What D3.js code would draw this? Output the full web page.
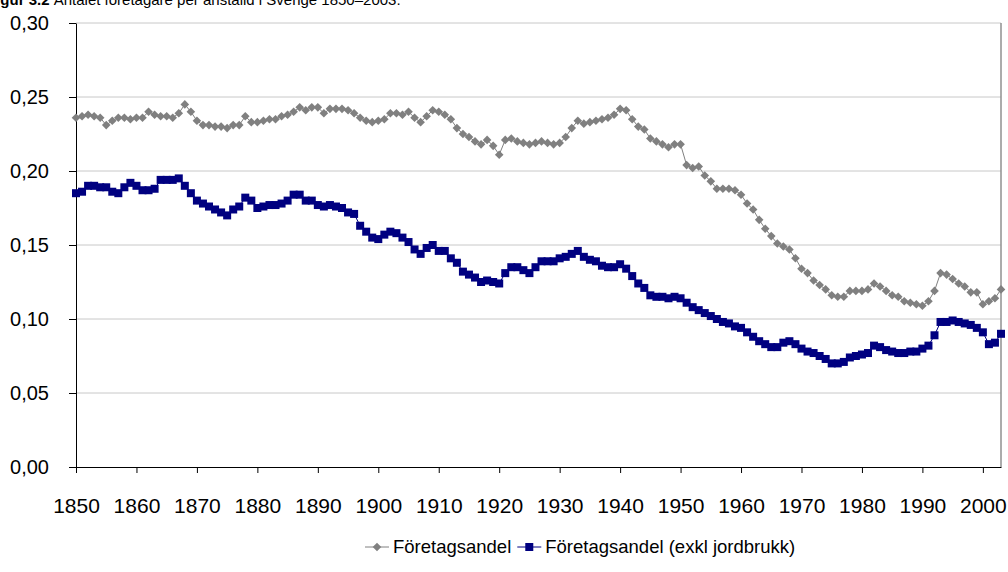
<!DOCTYPE html>
<html>
<head>
<meta charset="utf-8">
<script src="https://cdn.jsdelivr.net/npm/d3@7"></script>
<style>
body { margin: 0; background: #fff; }
svg { display: block; font-family: "Liberation Sans", Arial, sans-serif; }
</style>
</head>
<body>
<div id="chart"></div>
<script>
// årtal 1850-2003
const years = d3.range(1850, 2004);

const foretagsandel = [
  0.236, 0.237, 0.238, 0.237, 0.236, 0.231, 0.234, 0.236, 0.236, 0.235,
  0.236, 0.236, 0.240, 0.238, 0.237, 0.237, 0.236, 0.239, 0.245, 0.240,
  0.234, 0.231, 0.231, 0.230, 0.230, 0.229, 0.231, 0.231, 0.237, 0.233,
  0.233, 0.234, 0.235, 0.235, 0.237, 0.238, 0.240, 0.243, 0.241, 0.243,
  0.243, 0.239, 0.242, 0.242, 0.242, 0.241, 0.239, 0.236, 0.234, 0.233,
  0.234, 0.235, 0.239, 0.239, 0.238, 0.240, 0.236, 0.233, 0.237, 0.241,
  0.240, 0.238, 0.235, 0.229, 0.225, 0.223, 0.220, 0.218, 0.221, 0.217,
  0.211, 0.221, 0.222, 0.220, 0.219, 0.218, 0.219, 0.220, 0.219, 0.218,
  0.219, 0.223, 0.229, 0.234, 0.232, 0.233, 0.234, 0.235, 0.236, 0.238,
  0.242, 0.241, 0.235, 0.230, 0.228, 0.222, 0.220, 0.218, 0.216, 0.218,
  0.218, 0.204, 0.202, 0.203, 0.197, 0.193, 0.188, 0.188, 0.188, 0.187,
  0.184, 0.178, 0.174, 0.167, 0.161, 0.156, 0.151, 0.149, 0.147, 0.141,
  0.134, 0.131, 0.126, 0.123, 0.120, 0.116, 0.115, 0.115, 0.119, 0.119,
  0.119, 0.120, 0.124, 0.122, 0.119, 0.116, 0.115, 0.112, 0.111, 0.110,
  0.109, 0.112, 0.119, 0.131, 0.130, 0.127, 0.124, 0.122, 0.118, 0.118,
  0.110, 0.112, 0.114, 0.120
];

const exklJordbruk = [
  0.185, 0.186, 0.190, 0.190, 0.189, 0.189, 0.186, 0.185, 0.189, 0.192,
  0.190, 0.187, 0.187, 0.188, 0.194, 0.194, 0.194, 0.195, 0.190, 0.185,
  0.180, 0.178, 0.176, 0.174, 0.172, 0.170, 0.174, 0.176, 0.182, 0.180,
  0.175, 0.176, 0.177, 0.177, 0.178, 0.180, 0.184, 0.184, 0.180, 0.180,
  0.177, 0.176, 0.177, 0.176, 0.175, 0.172, 0.171, 0.163, 0.159, 0.155,
  0.154, 0.157, 0.159, 0.158, 0.155, 0.152, 0.147, 0.144, 0.148, 0.150,
  0.146, 0.146, 0.141, 0.138, 0.132, 0.130, 0.128, 0.125, 0.126, 0.125,
  0.124, 0.131, 0.135, 0.135, 0.133, 0.131, 0.135, 0.139, 0.139, 0.139,
  0.141, 0.142, 0.144, 0.146, 0.142, 0.140, 0.139, 0.136, 0.135, 0.135,
  0.137, 0.134, 0.129, 0.124, 0.121, 0.116, 0.115, 0.115, 0.114, 0.115,
  0.114, 0.111, 0.108, 0.106, 0.104, 0.102, 0.100, 0.098, 0.097, 0.095,
  0.094, 0.091, 0.088, 0.085, 0.083, 0.081, 0.081, 0.084, 0.085, 0.083,
  0.080, 0.078, 0.077, 0.075, 0.073, 0.070, 0.070, 0.071, 0.074, 0.075,
  0.076, 0.077, 0.082, 0.081, 0.079, 0.078, 0.077, 0.077, 0.078, 0.078,
  0.080, 0.082, 0.089, 0.098, 0.098, 0.099, 0.098, 0.097, 0.096, 0.094,
  0.091, 0.083, 0.084, 0.090
];

const xTickYears = [1850, 1860, 1870, 1880, 1890, 1900, 1910, 1920, 1930, 1940, 1950, 1960, 1970, 1980, 1990, 2000];
const yTicks = [0, 0.05, 0.10, 0.15, 0.20, 0.25, 0.30];
const seriesNames = ["Företagsandel", "Företagsandel (exkl jordbrukk)"];
const titleBold = "Figur 3.2";
const titleRest = "Antalet företagare per anställd i Sverige 1850–2003.";

const width = 1008, height = 572;
const margin = { top: 23, right: 7, bottom: 105, left: 76 };

const svg = d3.select('#chart').append('svg')
  .attr('width', width)
  .attr('height', height);

const x = d3.scaleLinear()
  .domain([1850, 2003])
  .range([margin.left, width - margin.right]);

const y = d3.scaleLinear()
  .domain([0, 0.30])
  .range([height - margin.bottom, margin.top]);

const sv = d3.formatLocale({ decimal: ',', thousands: ' ', grouping: [3], currency: ['', ' kr'] });
const fmt = sv.format('.2f');

// titel (avklippt i överkanten, som i originalet)
const title = svg.append('text')
  .attr('x', -13)
  .attr('y', 5)
  .style('font-size', '15px')
  .attr('fill', '#000');
title.append('tspan').style('font-weight', 'bold').text(titleBold + ' ');
title.append('tspan').text(titleRest);

// rutnät
svg.append('g')
  .selectAll('line')
  .data(yTicks.filter(d => d > 0))
  .join('line')
  .attr('x1', x.range()[0])
  .attr('x2', x.range()[1])
  .attr('y1', d => y(d))
  .attr('y2', d => y(d))
  .attr('stroke', '#c8c8c8')
  .attr('stroke-width', 1);

// högerkant
svg.append('line')
  .attr('x1', x.range()[1]).attr('x2', x.range()[1])
  .attr('y1', y(0.30)).attr('y2', y(0))
  .attr('stroke', '#909090')
  .attr('stroke-width', 1.5);

// axlar
const yAxis = svg.append('g')
  .attr('transform', `translate(${margin.left},0)`)
  .call(d3.axisLeft(y).tickValues(yTicks).tickFormat(fmt).tickSize(7).tickSizeOuter(0).tickPadding(20));

const xAxis = svg.append('g')
  .attr('transform', `translate(0,${y(0)})`)
  .call(d3.axisBottom(x).tickValues(xTickYears).tickFormat(d3.format('d')).tickSize(6).tickSizeOuter(0).tickPadding(25));

[yAxis, xAxis].forEach(a => {
  a.select('.domain').attr('stroke', '#000').attr('stroke-width', 1);
  a.selectAll('.tick line').attr('stroke', '#000');
  a.selectAll('text')
    .style('font-family', '"Liberation Sans", Arial, sans-serif')
    .attr('fill', '#000');
});
yAxis.selectAll('text').style('font-size', '20px');
xAxis.selectAll('text').style('font-size', '21px');

// serier
const series = [
  { name: seriesNames[0], values: foretagsandel, color: '#808080', shape: 'diamond' },
  { name: seriesNames[1], values: exklJordbruk, color: '#000080', shape: 'square' }
];

const line = d3.line()
  .x((d, i) => x(years[i]))
  .y(d => y(d));

function drawMarker(sel, shape, color) {
  if (shape === 'diamond') {
    sel.append('path')
      .attr('d', 'M0,-4.3L4.3,0L0,4.3L-4.3,0Z')
      .attr('fill', color);
  } else {
    sel.append('rect')
      .attr('x', -4).attr('y', -4)
      .attr('width', 8).attr('height', 8)
      .attr('fill', color);
  }
}

series.forEach(s => {
  svg.append('path')
    .datum(s.values)
    .attr('fill', 'none')
    .attr('stroke', s.color)
    .attr('stroke-width', 1)
    .attr('d', line);

  svg.append('g')
    .selectAll('g')
    .data(s.values)
    .join('g')
    .attr('transform', (d, i) => `translate(${x(years[i])},${y(d)})`)
    .each(function () { drawMarker(d3.select(this), s.shape, s.color); });
});

// teckenförklaring
const legend = svg.append('g').attr('transform', 'translate(365,547)');
let lx = 0;
series.forEach(s => {
  const item = legend.append('g').attr('transform', `translate(${lx},0)`);
  item.append('line')
    .attr('x1', 0).attr('x2', 24)
    .attr('y1', 0).attr('y2', 0)
    .attr('stroke', s.color)
    .attr('stroke-width', 1);
  drawMarker(item.append('g').attr('transform', 'translate(12,0)'), s.shape, s.color);
  const t = item.append('text')
    .attr('x', 28)
    .attr('dy', '0.35em')
    .style('font-size', '18.5px')
    .attr('fill', '#000')
    .text(s.name);
  lx += 28 + t.node().getComputedTextLength() + 6;
});
</script>
</body>
</html>
